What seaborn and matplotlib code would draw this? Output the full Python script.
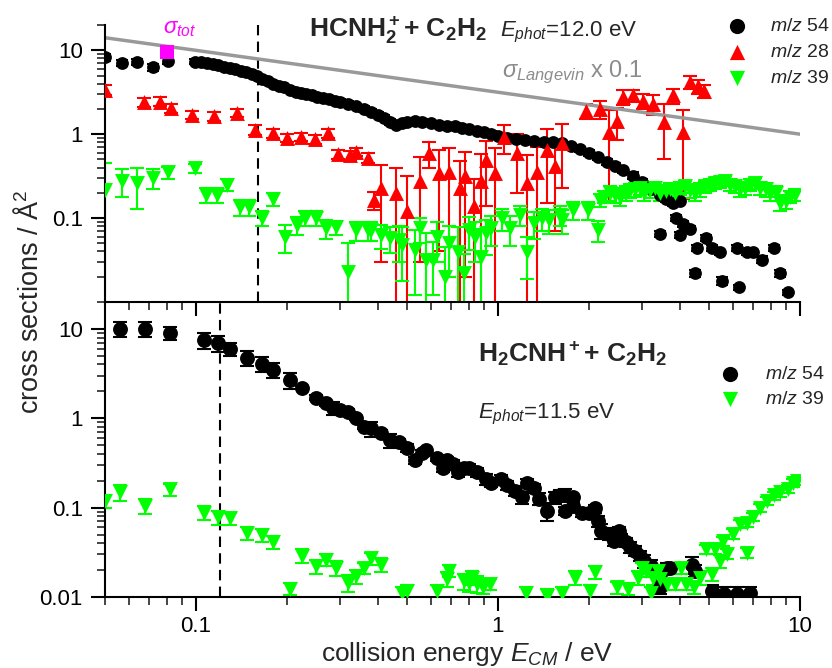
import numpy as np
import pandas as pd
import seaborn as sns
import matplotlib
matplotlib.use("Agg")
import matplotlib.pyplot as plt
from matplotlib.ticker import LogLocator, NullFormatter, FixedLocator, FuncFormatter

# ---- data ----------------------------------------------------------------
# top panel: HCNH2+ + C2H2, E_phot = 12.0 eV
top54_x = [0.050, 0.057, 0.064, 0.072, 0.081, 0.099, 0.104, 0.109, 0.114, 0.118,
           0.124, 0.130, 0.135, 0.141, 0.147, 0.153, 0.159, 0.166, 0.173, 0.180,
           0.188, 0.196, 0.205, 0.214, 0.223, 0.232, 0.242, 0.252, 0.263, 0.275,
           0.288, 0.30, 0.32, 0.34, 0.36, 0.38, 0.40, 0.42, 0.44, 0.46,
           0.48, 0.50, 0.53, 0.56, 0.60, 0.64, 0.68, 0.72, 0.76, 0.80,
           0.85, 0.90, 0.95, 1.00, 1.07, 1.15, 1.23, 1.32, 1.42, 1.52,
           1.63, 1.75, 1.87, 2.00, 2.15, 2.30, 2.45, 2.60, 2.80, 3.00,
           3.20, 3.45, 3.60, 3.80, 4.00, 3.45, 3.90, 4.00, 4.10, 4.33,
           4.55, 4.90, 5.10, 5.45, 6.20, 6.70, 7.00, 7.50, 8.20, 8.60,
           9.10, 4.50, 5.50, 6.30]
top54_y = [8.3, 7.1, 7.3, 6.3, 7.5, 7.3, 7.2, 7.0, 6.8, 6.6,
           6.4, 6.2, 5.9, 5.7, 5.5, 5.2, 4.9, 4.6, 4.3, 4.0,
           3.8, 3.6, 3.4, 3.2, 3.1, 3.0, 2.9, 2.8, 2.7, 2.6,
           2.5, 2.4, 2.3, 2.15, 2.0, 1.85, 1.7, 1.55, 1.4, 1.3,
           1.35, 1.4, 1.45, 1.4, 1.35, 1.3, 1.25, 1.25, 1.2, 1.15,
           1.1, 1.05, 1.0, 0.95, 0.9, 0.88, 0.85, 0.82, 0.8, 0.8,
           0.78, 0.72, 0.66, 0.6, 0.53, 0.47, 0.42, 0.37, 0.32, 0.27,
           0.22, 0.19, 0.17, 0.15, 0.16, 0.065, 0.10, 0.063, 0.085, 0.075,
           0.044, 0.058, 0.044, 0.039, 0.044, 0.039, 0.039, 0.032, 0.044, 0.022,
           0.013, 0.022, 0.018, 0.015]
top54_err = [0.8, 0.6, 0.6, 0.6, 0.6, 0.5, 0.5, 0.5, 0.5, 0.5,
             0.4, 0.4, 0.4, 0.4, 0.4, 0.4, 0.3, 0.3, 0.3, 0.3,
             0.3, 0.3, 0.2, 0.2, 0.2, 0.2, 0.2, 0.2, 0.2, 0.2,
             0.2, 0.2, 0.2, 0.15, 0.15, 0.15, 0.12, 0.12, 0.1, 0.1,
             0.1, 0.1, 0.1, 0.1, 0.1, 0.1, 0.1, 0.1, 0.1, 0.08,
             0.08, 0.08, 0.08, 0.07, 0.07, 0.07, 0.06, 0.06, 0.06, 0.06,
             0.06, 0.05, 0.05, 0.05, 0.04, 0.04, 0.03, 0.03, 0.03, 0.02,
             0.02, 0.015, 0.015, 0.012, 0.012, 0.005, 0.008, 0.005, 0.007, 0.006,
             0.004, 0.005, 0.004, 0.003, 0.004, 0.003, 0.003, 0.003, 0.004, 0.002,
             0.001, 0.002, 0.002, 0.001]

top28_x = [0.050, 0.0675, 0.076, 0.083, 0.097, 0.115, 0.137, 0.157, 0.18, 0.20,
           0.223, 0.247, 0.273, 0.295, 0.323, 0.34, 0.37, 0.39, 0.41, 0.46,
           0.50, 0.55, 0.59, 0.64, 0.69, 0.75, 0.78, 0.83, 0.88, 0.91,
           0.98, 1.05, 1.16, 1.25, 1.35, 1.45, 1.55, 1.63, 1.95, 2.18,
           2.33, 2.47, 2.60, 2.80, 3.02, 3.25, 3.55, 3.80, 4.10, 4.33,
           4.60, 4.80]
top28_y = [3.4, 2.4, 2.45, 2.05, 1.7, 1.65, 1.8, 1.12, 1.02, 0.9,
           0.93, 0.87, 1.03, 0.58, 0.56, 0.62, 0.52, 0.165, 0.23, 0.2,
           0.12, 0.28, 0.6, 0.34, 0.35, 0.23, 0.32, 0.14, 0.28, 0.49,
           0.34, 0.93, 0.6, 0.26, 0.35, 0.65, 0.42, 0.78, 1.9, 2.0,
           1.06, 1.45, 2.8, 2.9, 2.5, 2.3, 1.4, 2.9, 1.05, 4.2,
           3.7, 3.3]
top28_err = [0.5, 0.3, 0.3, 0.25, 0.2, 0.2, 0.2, 0.15, 0.12, 0.1,
             0.1, 0.1, 0.12, 0.07, 0.07, 0.07, 0.07, 0.04, 0.2, 0.2,
             0.2, 0.25, 0.2, 0.3, 0.33, 0.25, 0.3, 0.15, 0.3, 0.35,
             0.34, 0.35, 0.4, 0.3, 0.35, 0.5, 0.35, 0.55, 0.4, 0.5,
             0.9, 0.6, 0.6, 0.5, 0.5, 0.6, 0.9, 0.6, 0.88, 0.7,
             0.7, 0.6]

top39_x = [0.050, 0.057, 0.064, 0.072, 0.081, 0.099, 0.108, 0.117, 0.127, 0.140,
           0.150, 0.166, 0.180, 0.197, 0.216, 0.230, 0.250, 0.270, 0.290, 0.32,
           0.34, 0.37, 0.38, 0.41, 0.44, 0.47, 0.48, 0.53, 0.55, 0.58,
           0.61, 0.63, 0.67, 0.69, 0.74, 0.77, 0.80, 0.84, 0.88, 0.91,
           0.95, 1.03, 1.10, 1.18, 1.25, 1.32, 1.40, 1.48, 1.60, 1.63,
           1.77, 1.98, 2.15, 2.18, 2.25, 2.35, 2.45, 2.54, 2.65, 2.74,
           2.85, 2.95, 3.05, 3.19, 3.30, 3.45, 3.60, 3.72, 3.85, 4.00,
           4.15, 4.33, 4.50, 4.67, 4.85, 5.05, 5.25, 5.45, 5.65, 5.85,
           6.10, 6.35, 6.60, 6.85, 7.10, 7.40, 7.70, 7.95, 8.30, 8.60,
           9.00, 9.30, 9.60]
top39_y = [0.215, 0.28, 0.26, 0.30, 0.35, 0.39, 0.19, 0.19, 0.25, 0.135,
           0.135, 0.10, 0.17, 0.06, 0.083, 0.10, 0.10, 0.076, 0.078, 0.023,
           0.072, 0.072, 0.072, 0.063, 0.058, 0.055, 0.048, 0.042, 0.076, 0.032,
           0.032, 0.06, 0.02, 0.05, 0.039, 0.022, 0.072, 0.06, 0.034, 0.066,
           0.076, 0.10, 0.076, 0.11, 0.039, 0.087, 0.10, 0.095, 0.11, 0.095,
           0.125, 0.125, 0.072, 0.164, 0.18, 0.20, 0.19, 0.18, 0.20, 0.215,
           0.22, 0.23, 0.20, 0.215, 0.23, 0.20, 0.21, 0.225, 0.20, 0.23,
           0.24, 0.215, 0.20, 0.22, 0.24, 0.25, 0.26, 0.27, 0.28, 0.25,
           0.24, 0.22, 0.23, 0.25, 0.26, 0.23, 0.22, 0.20, 0.20, 0.15,
           0.16, 0.18, 0.19]
top39_err = [0.24, 0.1, 0.13, 0.08, 0.06, 0.05, 0.04, 0.04, 0.04, 0.03,
             0.03, 0.02, 0.03, 0.022, 0.02, 0.02, 0.02, 0.02, 0.015, 0.027,
             0.018, 0.018, 0.018, 0.02, 0.02, 0.025, 0.03, 0.03, 0.025, 0.035,
             0.02, 0.03, 0.025, 0.03, 0.04, 0.015, 0.03, 0.03, 0.04, 0.03,
             0.03, 0.03, 0.03, 0.03, 0.02, 0.03, 0.03, 0.03, 0.03, 0.03,
             0.03, 0.03, 0.02, 0.03, 0.03, 0.04, 0.04, 0.04, 0.04, 0.04,
             0.04, 0.04, 0.04, 0.04, 0.04, 0.04, 0.04, 0.04, 0.04, 0.04,
             0.04, 0.04, 0.04, 0.04, 0.04, 0.04, 0.04, 0.04, 0.04, 0.04,
             0.04, 0.04, 0.04, 0.04, 0.04, 0.04, 0.04, 0.04, 0.04, 0.03,
             0.03, 0.03, 0.03]

tot_x, tot_y, tot_err = [0.08], [9.5], [0.8]
lang_x, lang_y = [0.05, 10.0], [14.1, 1.0]
top_threshold = 0.16

# bottom panel: H2CNH+ + C2H2, E_phot = 11.5 eV
bot54_x = [0.056, 0.068, 0.082, 0.106, 0.118, 0.13, 0.148, 0.165, 0.18, 0.205,
           0.225, 0.25, 0.27, 0.285, 0.30, 0.32, 0.34, 0.36, 0.38, 0.41,
           0.44, 0.47, 0.50, 0.53, 0.56, 0.58, 0.63, 0.66, 0.68, 0.71,
           0.74, 0.77, 0.80, 0.85, 0.91, 0.95, 1.02, 1.07, 1.14, 1.20,
           1.25, 1.32, 1.37, 1.45, 1.55, 1.60, 1.67, 1.67, 1.77, 1.77,
           1.90, 2.00, 2.10, 2.15, 2.20, 2.33, 2.43, 2.52, 2.55, 2.65,
           2.74, 2.85, 2.95, 3.05, 3.20, 3.30, 3.45, 3.45, 3.63, 3.72,
           4.40, 4.50, 5.10, 5.60, 6.20, 6.85]
bot54_y = [10.0, 10.0, 9.1, 7.5, 6.9, 6.0, 4.7, 4.1, 3.5, 2.7,
           2.2, 1.7, 1.47, 1.3, 1.23, 1.17, 1.0, 0.8, 0.77, 0.68,
           0.565, 0.54, 0.47, 0.34, 0.41, 0.436, 0.36, 0.28, 0.34, 0.31,
           0.25, 0.28, 0.28, 0.25, 0.21, 0.19, 0.21, 0.177, 0.155, 0.13,
           0.19, 0.165, 0.126, 0.092, 0.13, 0.137, 0.14, 0.092, 0.13, 0.105,
           0.088, 0.086, 0.098, 0.071, 0.055, 0.051, 0.0425, 0.055, 0.046, 0.041,
           0.036, 0.033, 0.029, 0.0253, 0.022, 0.0196, 0.018, 0.0128, 0.021, 0.021,
           0.023, 0.0196, 0.0117, 0.0108, 0.0108, 0.011]
bot54_err = [1.8, 1.8, 1.5, 1.5, 1.4, 1.0, 0.9, 0.8, 0.7, 0.55,
             0.1, 0.1, 0.1, 0.22, 0.1, 0.1, 0.05, 0.05, 0.15, 0.05,
             0.1, 0.05, 0.05, 0.03, 0.03, 0.03, 0.03, 0.03, 0.03, 0.03,
             0.03, 0.03, 0.03, 0.03, 0.03, 0.02, 0.02, 0.02, 0.02, 0.02,
             0.02, 0.02, 0.02, 0.022, 0.02, 0.02, 0.02, 0.01, 0.01, 0.01,
             0.01, 0.01, 0.01, 0.01, 0.01, 0.008, 0.005, 0.005, 0.005, 0.005,
             0.005, 0.004, 0.004, 0.004, 0.004, 0.003, 0.003, 0.002, 0.003, 0.003,
             0.005, 0.003, 0.002, 0.002, 0.002, 0.002]

bot39_x = [0.050, 0.056, 0.068, 0.082, 0.106, 0.118, 0.13, 0.148, 0.165, 0.18,
           0.205, 0.225, 0.25, 0.27, 0.29, 0.32, 0.34, 0.36, 0.38, 0.41,
           0.48, 0.50, 0.63, 0.68, 0.69, 0.77, 0.80, 0.82, 0.85, 0.89,
           0.94, 1.24, 1.45, 1.63, 1.80, 2.02, 2.10, 2.48, 2.70, 2.90,
           3.00, 3.10, 3.25, 3.40, 3.20, 3.45, 3.63, 3.85, 4.05, 4.20,
           4.45, 4.67, 4.90, 5.10, 5.25, 5.45, 5.55, 5.75, 6.00, 6.35,
           6.70, 6.70, 7.00, 7.40, 7.80, 8.20, 8.60, 9.10, 9.50, 9.80]
bot39_y = [0.12, 0.148, 0.105, 0.16, 0.088, 0.078, 0.076, 0.052, 0.049, 0.041,
           0.0124, 0.029, 0.022, 0.026, 0.021, 0.0145, 0.017, 0.021, 0.027, 0.023,
           0.011, 0.0117, 0.0117, 0.016, 0.0196, 0.015, 0.0145, 0.0165, 0.014, 0.0128,
           0.014, 0.011, 0.0103, 0.011, 0.0165, 0.0117, 0.019, 0.0128, 0.0124, 0.0165,
           0.021, 0.0196, 0.0165, 0.0196, 0.011, 0.016, 0.014, 0.014, 0.021, 0.014,
           0.0128, 0.0165, 0.034, 0.018, 0.0345, 0.0253, 0.0425, 0.0305, 0.051, 0.066,
           0.031, 0.067, 0.078, 0.10, 0.12, 0.137, 0.148, 0.163, 0.19, 0.20]
bot39_err = [0.02, 0.03, 0.02, 0.025, 0.015, 0.014, 0.012, 0.009, 0.008, 0.007,
             0.002, 0.005, 0.004, 0.004, 0.004, 0.003, 0.003, 0.003, 0.004, 0.004,
             0.002, 0.002, 0.002, 0.003, 0.003, 0.003, 0.003, 0.003, 0.003, 0.002,
             0.002, 0.002, 0.002, 0.002, 0.003, 0.002, 0.003, 0.002, 0.002, 0.003,
             0.003, 0.003, 0.003, 0.003, 0.002, 0.003, 0.002, 0.002, 0.003, 0.002,
             0.002, 0.003, 0.004, 0.003, 0.004, 0.004, 0.005, 0.004, 0.006, 0.007,
             0.004, 0.007, 0.008, 0.01, 0.012, 0.014, 0.015, 0.016, 0.018, 0.02]
bot_threshold = 0.12

x_ticks = [0.1, 1, 10]
top_y_ticks = [0.1, 1, 10]
bot_y_ticks = [0.01, 0.1, 1, 10]

# ---- style ----------------------------------------------------------------
sns.set_theme(style="ticks")
plt.rcParams["font.family"] = ["Liberation Sans", "DejaVu Sans"]
plt.rcParams["mathtext.fontset"] = "custom"
plt.rcParams["mathtext.rm"] = "Liberation Sans"
plt.rcParams["mathtext.it"] = "Liberation Sans:italic"
plt.rcParams["mathtext.bf"] = "Liberation Sans:bold"
plt.rcParams["axes.linewidth"] = 1.5

RED = "#ff0000"
GREEN = "#00ff00"
GREY = "#999999"

fig = plt.figure(figsize=(8.32, 6.68), dpi=100)
ax_top = fig.add_axes([0.1262, 0.5479, 0.8353, 0.4147])
ax_bot = fig.add_axes([0.1262, 0.1063, 0.8353, 0.4416])


def draw(ax, x, y, err, color, marker, size, label=None, cap=5):
    df = pd.DataFrame({"x": x, "y": y, "err": err})
    ax.errorbar(df["x"], df["y"], yerr=df["err"], fmt="none", ecolor=color,
                elinewidth=1.5, capsize=cap, capthick=1.5, zorder=2)
    sns.scatterplot(data=df, x="x", y="y", ax=ax, color=color, marker=marker,
                    s=size, linewidth=0, label=label, zorder=3)


for ax in (ax_top, ax_bot):
    ax.set_xscale("log")
    ax.set_yscale("log")

# top panel
draw(ax_top, top54_x, top54_y, top54_err, "black", "o", 85, "$m/z$ 54", cap=4)
draw(ax_top, top28_x, top28_y, top28_err, RED, "^", 115, "$m/z$ 28")
draw(ax_top, top39_x, top39_y, top39_err, GREEN, "v", 115, "$m/z$ 39")
draw(ax_top, tot_x, tot_y, tot_err, "#ff00ff", "s", 95, cap=4)
sns.lineplot(x=lang_x, y=lang_y, ax=ax_top, color=GREY, linewidth=2.5, zorder=2.5)
ax_top.axvline(top_threshold, color="black", ls=(0, (5, 3)), lw=1.5, zorder=1)

# bottom panel
draw(ax_bot, bot54_x, bot54_y, bot54_err, "black", "o", 115, "$m/z$ 54")
draw(ax_bot, bot39_x, bot39_y, bot39_err, GREEN, "v", 115, "$m/z$ 39")
ax_bot.axvline(bot_threshold, color="black", ls=(0, (5, 3)), lw=1.5, zorder=1)

# axes
for ax, yt in ((ax_top, top_y_ticks), (ax_bot, bot_y_ticks)):
    ax.set_xlim(0.05, 10)
    ax.set_ylim(0.01, 20)
    ax.set_xlabel("")
    ax.set_ylabel("")
    ax.xaxis.set_major_locator(FixedLocator(x_ticks))
    ax.xaxis.set_minor_locator(LogLocator(base=10, subs=np.arange(2, 10), numticks=20))
    ax.xaxis.set_minor_formatter(NullFormatter())
    ax.yaxis.set_major_locator(FixedLocator(yt))
    ax.yaxis.set_minor_locator(LogLocator(base=10, subs=np.arange(2, 10), numticks=20))
    ax.yaxis.set_minor_formatter(NullFormatter())
    fmt = FuncFormatter(lambda v, p: f"{v:g}")
    ax.xaxis.set_major_formatter(fmt)
    ax.yaxis.set_major_formatter(fmt)
    ax.tick_params(which="major", direction="out", length=10, width=1.5,
                   labelsize=16, pad=6, colors="black")
    ax.tick_params(which="minor", direction="out", length=5.5, width=1.2)
    for s in ("top", "right"):
        ax.spines[s].set_visible(False)
    ax.spines["left"].set_color("black")
    ax.spines["bottom"].set_color("black")
    ax.set_facecolor("none")

ax_top.tick_params(labelbottom=False)
ax_bot.tick_params(axis="x", which="major", pad=4)

# legends
leg_top = ax_top.legend(loc="upper right", bbox_to_anchor=(1.043, 1.027), frameon=False,
                        fontsize=14, handlelength=1.2, handletextpad=1.1, labelspacing=0.42,
                        borderpad=0, borderaxespad=0, scatterpoints=1)
leg_bot = ax_bot.legend(loc="upper right", bbox_to_anchor=(1.036, 0.784), frameon=False,
                        fontsize=14, handlelength=1.2, handletextpad=1.2, labelspacing=0.38,
                        borderpad=0, borderaxespad=0, scatterpoints=1)
for leg in (leg_top, leg_bot):
    for h in leg.legend_handles:
        h.set_sizes([120])

# annotations
ax_top.text(0.293, 0.957, r"$\mathbf{HCNH_2^+}$+ $\mathbf{C_2H_2}$", transform=ax_top.transAxes,
            fontsize=19, fontweight="bold", va="baseline")
ax_top.text(0.568, 0.957, r"$E_{phot}$=12.0 eV", transform=ax_top.transAxes,
            fontsize=16, va="baseline")
ax_top.text(0.571, 0.812, r"$\sigma_{Langevin}$ x 0.1", transform=ax_top.transAxes,
            fontsize=17, va="baseline", color="#8c8c8c")
ax_top.text(0.083, 0.971, r"$\sigma_{tot}$", transform=ax_top.transAxes,
            fontsize=16, va="baseline", color="#ff00ff")

ax_bot.text(0.537, 0.797, r"$\mathbf{H_2CNH^+}$+ $\mathbf{C_2H_2}$", transform=ax_bot.transAxes,
            fontsize=19, fontweight="bold", va="baseline")
ax_bot.text(0.537, 0.607, r"$E_{phot}$=11.5 eV", transform=ax_bot.transAxes,
            fontsize=16, va="baseline")

fig.text(0.036, 0.548, "cross sections / Å$^2$", rotation=90, ha="center", va="center",
         fontsize=19.5)
fig.text(0.561, 0.010, "collision energy $E_{CM}$ / eV", ha="center", va="baseline",
         fontsize=19)

fig.savefig("out.png", dpi=100, facecolor="white")
